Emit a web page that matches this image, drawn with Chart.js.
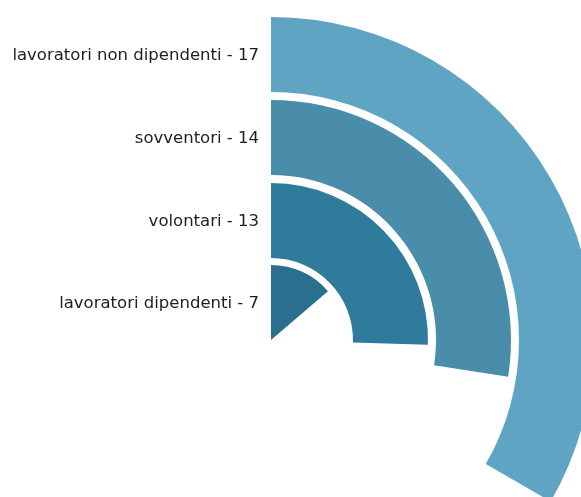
<!DOCTYPE html>
<html>
<head>
<meta charset="utf-8">
<script src="https://cdn.jsdelivr.net/npm/chart.js@4/dist/chart.umd.min.js"></script>
<style>
html,body{margin:0;padding:0;width:581px;height:497px;overflow:hidden;background:#fff;}
#wrap{position:absolute;left:-52px;top:17px;width:646px;height:646px;}
</style>
</head>
<body>
<div id="wrap"><canvas id="c" width="646" height="646"></canvas></div>
<script>
const categories = ["lavoratori non dipendenti", "sovventori", "volontari", "lavoratori dipendenti"];
const values = [17, 14, 13, 7];
const colors = ["#5fa5c3", "#4a8dab", "#2f7b9b", "#2a6f8e"];
const fullCircle = 51;

const datasets = [];
categories.forEach((cat, i) => {
  datasets.push({
    label: cat,
    data: [values[i], fullCircle - values[i]],
    backgroundColor: [colors[i], 'rgba(0,0,0,0)'],
    borderWidth: 0,
    weight: 75,
    isRing: true
  });
  if (i < categories.length - 1) {
    datasets.push({
      label: 'gap' + i,
      data: [fullCircle],
      backgroundColor: ['rgba(0,0,0,0)'],
      borderWidth: 0,
      weight: i === categories.length - 2 ? 7 : 8,
      isRing: false
    });
  }
});

const labelPlugin = {
  id: 'ringLabels',
  afterDraw(chart) {
    const ctx = chart.ctx;
    ctx.save();
    ctx.font = '16.5px "DejaVu Sans"';
    ctx.fillStyle = '#1e1e1e';
    ctx.textAlign = 'right';
    ctx.textBaseline = 'middle';
    chart.data.datasets.forEach((ds, di) => {
      if (!ds.isRing) return;
      const arc = chart.getDatasetMeta(di).data[0];
      const r = (arc.innerRadius + arc.outerRadius) / 2;
      ctx.fillText(ds.label + ' - ' + ds.data[0], arc.x - 12, arc.y - r + 1);
    });
    ctx.restore();
  }
};

new Chart(document.getElementById('c'), {
  type: 'doughnut',
  data: { labels: ['value', 'rest'], datasets },
  options: {
    responsive: false,
    devicePixelRatio: 1,
    animation: false,
    cutout: 0,
    rotation: 0,
    circumference: 360,
    layout: { padding: 0 },
    plugins: { legend: { display: false }, tooltip: { enabled: false } }
  },
  plugins: [labelPlugin]
});
</script>
</body>
</html>
